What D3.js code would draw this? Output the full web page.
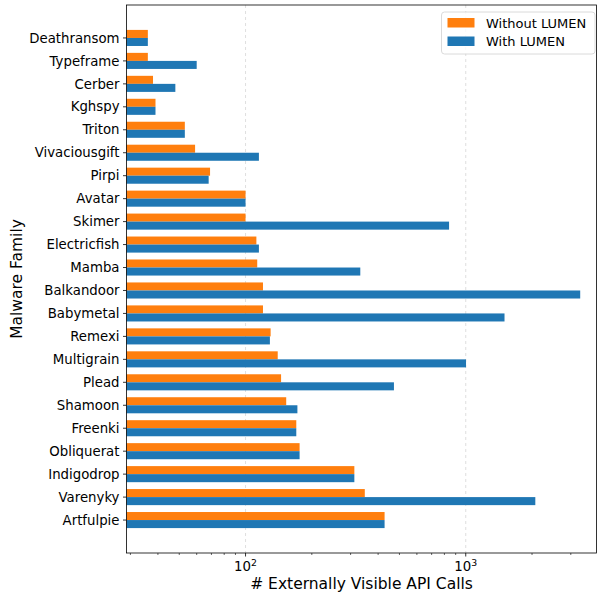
<!DOCTYPE html>
<html><head><meta charset="utf-8">
<script src="https://cdn.jsdelivr.net/npm/d3@7"></script>
<style>
body{margin:0;background:#fff;}
text{font-family:"DejaVu Sans",sans-serif;fill:#000;}
</style></head>
<body><div id="chart"></div>
<script>
// families listed bottom to top
var families=["Artfulpie","Varenyky","Indigodrop","Obliquerat","Freenki","Shamoon","Plead","Multigrain","Remexi","Babymetal","Balkandoor","Mamba","Electricfish","Skimer","Avatar","Pirpi","Vivaciousgift","Triton","Kghspy","Cerber","Typeframe","Deathransom"];
var withoutLumen=[428,348,312,176,170,153,145,140,130,120,120,113,112,100,100,69,59,53,39,38,36,36];
var withLumen=[428,2070,312,176,170,172,472,1003,129,1500,3310,332,115,840,100,68,115,53,39,48,60,36];
var seriesNames=["Without LUMEN","With LUMEN"];
var seriesColors=["#ff7f0e","#1f77b4"];
var xTicks=[100,1000];

var W=597,H=597, m={top:5,right:0.5,bottom:44,left:126.5};
var width=W-m.left-m.right, height=H-m.top-m.bottom;
var svg=d3.select("#chart").append("svg").attr("width",W).attr("height",H);
var g=svg.append("g").attr("transform","translate("+m.left+","+m.top+")");

var x=d3.scaleLog().domain([28.8,3925]).range([0,width]);
var bh=0.35;
var y=d3.scaleLinear().domain([-1.435,families.length-1+1.435]).range([height,0]);

// grid
g.selectAll("line.grid").data(xTicks).enter().append("line")
  .attr("x1",function(d){return x(d);}).attr("x2",function(d){return x(d);})
  .attr("y1",0).attr("y2",height)
  .attr("stroke","#b0b0b0").attr("stroke-opacity",0.5).attr("stroke-width",0.8).attr("stroke-dasharray","3,3");

var rows=families.map(function(f,i){return {name:f,i:i,a:withoutLumen[i],b:withLumen[i]};});
g.selectAll("rect.a").data(rows).enter().append("rect")
  .attr("x",0).attr("y",function(d){return y(d.i+bh);})
  .attr("width",function(d){return x(d.a);}).attr("height",function(d){return y(d.i)-y(d.i+bh);})
  .attr("fill",seriesColors[0]);
g.selectAll("rect.b").data(rows).enter().append("rect")
  .attr("x",0).attr("y",function(d){return y(d.i);})
  .attr("width",function(d){return x(d.b);}).attr("height",function(d){return y(d.i-bh)-y(d.i);})
  .attr("fill",seriesColors[1]);

// frame
g.append("rect").attr("width",width).attr("height",height).attr("fill","none").attr("stroke","#000").attr("stroke-width",0.8);

// x axis
var minor=[];
[10,100,1000].forEach(function(p){for(var k=2;k<=9;k++){var v=p*k;if(v>=28.8&&v<=3925)minor.push(v);}});
var xa=g.append("g").attr("transform","translate(0,"+height+")");
xa.selectAll("line.mn").data(minor).enter().append("line")
  .attr("x1",function(d){return x(d);}).attr("x2",function(d){return x(d);}).attr("y1",0).attr("y2",2).attr("stroke","#000").attr("stroke-width",0.6);
xa.selectAll("line.mj").data(xTicks).enter().append("line")
  .attr("x1",function(d){return x(d);}).attr("x2",function(d){return x(d);}).attr("y1",0).attr("y2",3.5).attr("stroke","#000").attr("stroke-width",0.8);
var tl=xa.selectAll("text.tk").data(xTicks).enter().append("text")
  .attr("x",function(d){return x(d);}).attr("y",18).attr("text-anchor","middle").style("font-size","13.3px");
tl.append("tspan").text("10");
tl.append("tspan").attr("dy",-5).style("font-size","9.3px").text(function(d){return Math.round(Math.log10(d));});

// y axis
var ya=g.append("g");
ya.selectAll("line").data(rows).enter().append("line")
  .attr("x1",-3.5).attr("x2",0).attr("y1",function(d){return y(d.i);}).attr("y2",function(d){return y(d.i);})
  .attr("stroke","#000").attr("stroke-width",0.8);
ya.selectAll("text").data(rows).enter().append("text")
  .attr("x",-7).attr("y",function(d){return y(d.i);}).attr("dy","0.35em").attr("text-anchor","end")
  .style("font-size","13.3px").text(function(d){return d.name;});

svg.append("text").attr("x",m.left+width/2).attr("y",589).attr("text-anchor","middle").style("font-size","15.5px").text("# Externally Visible API Calls");
svg.append("text").attr("transform","rotate(-90)").attr("x",-(m.top+height/2)).attr("y",22).attr("text-anchor","middle").style("font-size","15.5px").text("Malware Family");

// legend
var lg=svg.append("g").attr("transform","translate(441.5,12)");
lg.append("rect").attr("width",153.5).attr("height",42).attr("rx",3).attr("fill","#fff").attr("fill-opacity",0.8).attr("stroke","#d0d0d0").attr("stroke-width",0.8);
seriesNames.forEach(function(s,k){
  lg.append("rect").attr("x",6).attr("y",6+k*18.5).attr("width",27).attr("height",9.5).attr("fill",seriesColors[k]);
  lg.append("text").attr("x",44.5).attr("y",11+k*18.5).attr("dy","0.35em").style("font-size","13px").text(s);
});
</script></body></html>
